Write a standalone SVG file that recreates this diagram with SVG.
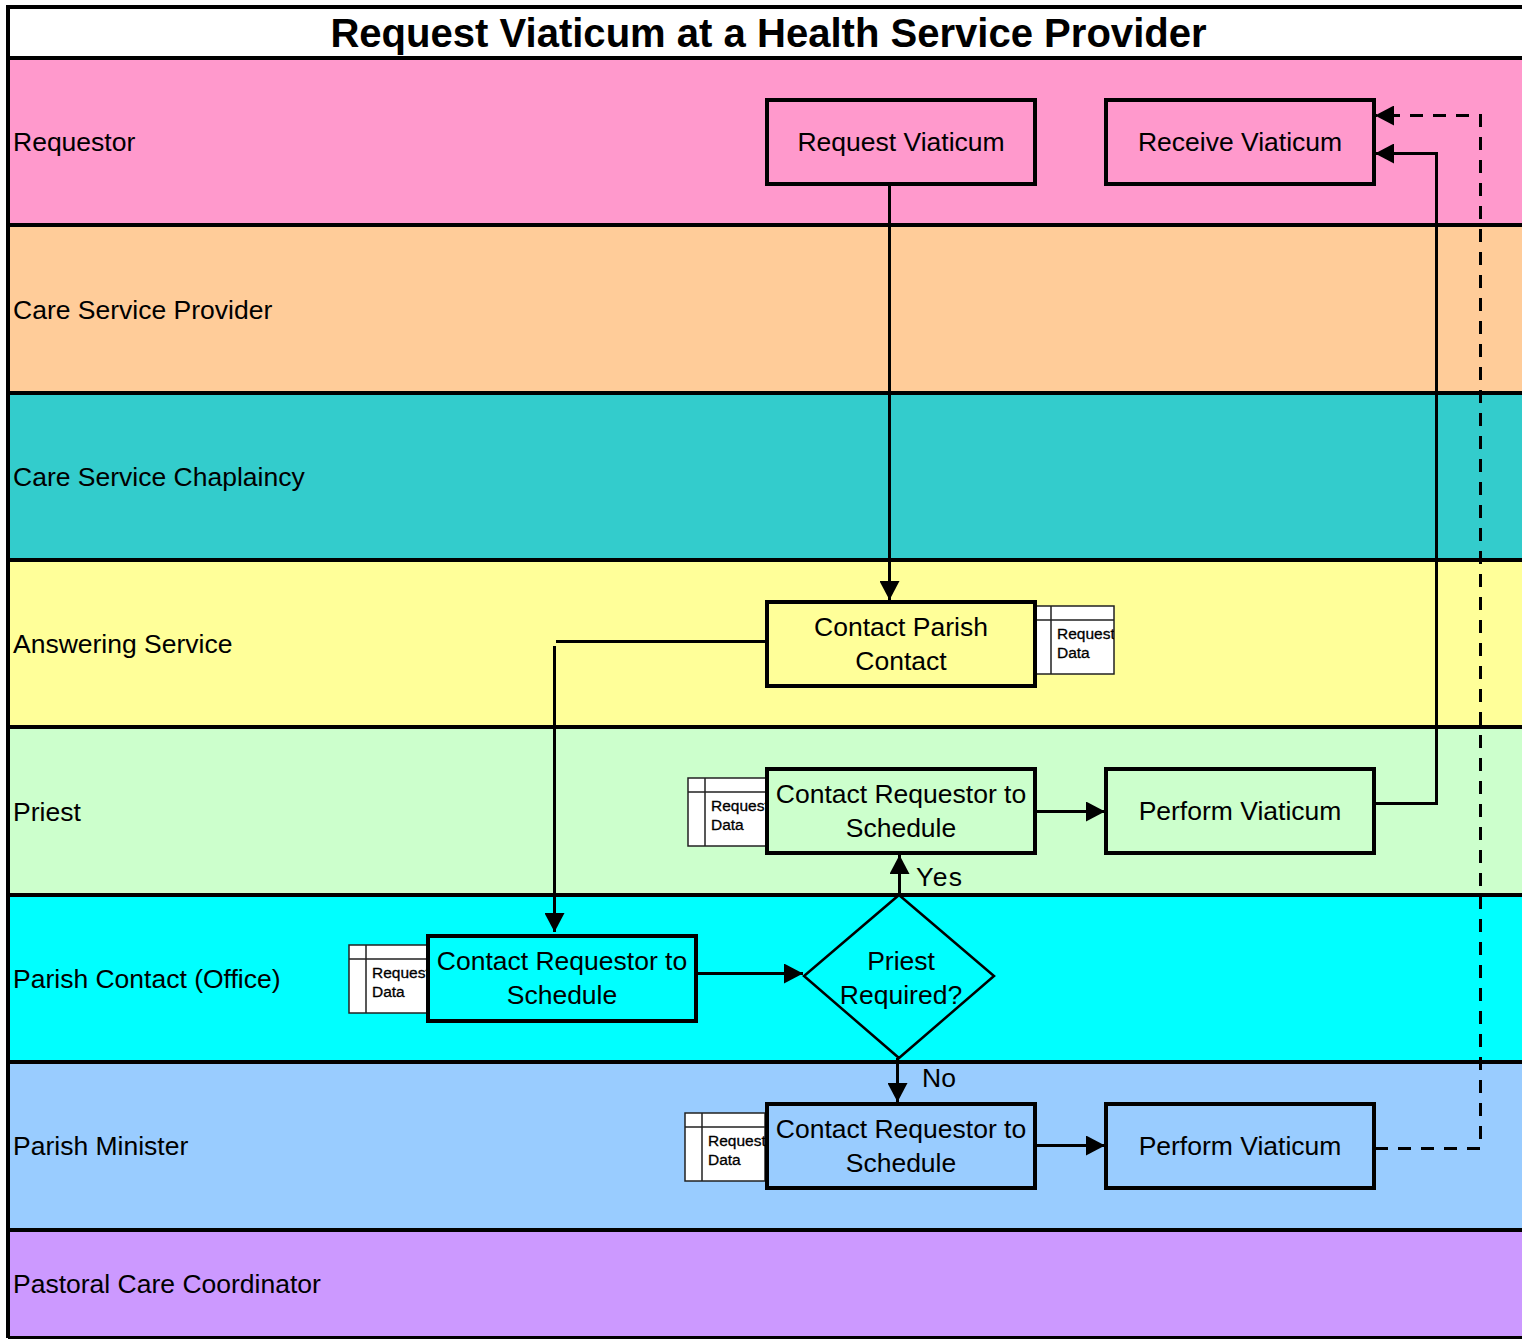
<svg xmlns="http://www.w3.org/2000/svg" width="1522" height="1339" viewBox="0 0 1522 1339">
<style>
text{font-family:"Liberation Sans",Arial,sans-serif;font-size:26.5px;fill:#000}
.t{font-weight:bold;font-size:40.05px}
.m{text-anchor:middle}
.box{stroke:#000;stroke-width:4}
.sep{stroke:#000;stroke-width:4;fill:none}
.c{fill:none;stroke:#000;stroke-width:3}
.d{fill:none;stroke:#000;stroke-width:3;stroke-dasharray:13 10}
.doc{fill:#fff;stroke:#222;stroke-width:1.5}
.docl{fill:none;stroke:#222;stroke-width:1.5}
.dt{font-size:15.5px;stroke:#000;stroke-width:.3}
</style>
<defs>
<marker id="a" markerUnits="userSpaceOnUse" markerWidth="20" markerHeight="20" refX="19" refY="10" orient="auto"><path d="M0 0L19 10L0 20Z" fill="#000"/></marker>
<clipPath id="dc"><rect width="80" height="68"/></clipPath>
<g id="docshape">
<rect class="doc" width="80" height="68"/>
<path class="docl" d="M0 14H80M17 0V68"/>
<g clip-path="url(#dc)">
<text class="dt" x="23" y="33">Request</text>
<text class="dt" x="23" y="52">Data</text>
</g>
</g>
</defs>
<g id="lanes">
<rect x="8" y="7" width="1516" height="51" fill="#fff"/>
<rect x="8" y="58" width="1516" height="167" fill="#ff99cc"/>
<rect x="8" y="225" width="1516" height="168" fill="#ffcc99"/>
<rect x="8" y="393" width="1516" height="167" fill="#33cccc"/>
<rect x="8" y="560" width="1516" height="167" fill="#ffff99"/>
<rect x="8" y="727" width="1516" height="168" fill="#ccffcc"/>
<rect x="8" y="895" width="1516" height="167" fill="#00ffff"/>
<rect x="8" y="1062" width="1516" height="168" fill="#99ccff"/>
<rect x="8" y="1230" width="1516" height="108" fill="#cc99ff"/>
<path class="sep" d="M8 1338V7H1524M8 58H1524M8 225H1524M8 393H1524M8 560H1524M8 727H1524M8 895H1524M8 1062H1524M8 1230H1524M8 1338H1524"/>
<text class="t m" x="768.5" y="47">Request Viaticum at a Health Service Provider</text>
<text x="13" y="151">Requestor</text>
<text x="13" y="319">Care Service Provider</text>
<text x="13" y="486">Care Service Chaplaincy</text>
<text x="13" y="653">Answering Service</text>
<text x="13" y="821">Priest</text>
<text x="13" y="988">Parish Contact (Office)</text>
<text x="13" y="1155">Parish Minister</text>
<text x="13" y="1293">Pastoral Care Coordinator</text>
</g>
<g id="connectors">
<path class="c" d="M889.5 184V600" marker-end="url(#a)"/>
<path class="c" d="M766 641.5H556"/>
<path class="c" d="M554.5 646V932" marker-end="url(#a)"/>
<path class="c" d="M696 973.5H803" marker-end="url(#a)"/>
<path class="c" d="M899.5 895V855" marker-end="url(#a)"/>
<path class="c" d="M897.5 1058V1102" marker-end="url(#a)"/>
<path class="c" d="M1035 811.5H1105" marker-end="url(#a)"/>
<path class="c" d="M1035 1145.5H1105" marker-end="url(#a)"/>
<path class="c" d="M1375 803.5H1436.5V153.5H1375" marker-end="url(#a)"/>
<path class="d" d="M1375 1148.5H1480.5V115.5H1375" marker-end="url(#a)"/>
<text x="916" y="886" textLength="46">Yes</text>
<text x="922" y="1087">No</text>
</g>
<g id="n1"><rect class="box" x="767" y="100" width="268" height="84" fill="#ff99cc"/><text class="m" x="901" y="151">Request Viaticum</text></g>
<g id="n2"><rect class="box" x="1106" y="100" width="268" height="84" fill="#ff99cc"/><text class="m" x="1240" y="151">Receive Viaticum</text></g>
<g id="d1"><use href="#docshape" x="1034" y="606"/></g>
<g id="n3"><rect class="box" x="767" y="602" width="268" height="84" fill="#ffff99"/><text class="m" x="901" y="636">Contact Parish</text><text class="m" x="901" y="670">Contact</text></g>
<g id="d2"><use href="#docshape" x="688" y="778"/></g>
<g id="n4"><rect class="box" x="767" y="769" width="268" height="84" fill="#ccffcc"/><text class="m" x="901" y="803">Contact Requestor to</text><text class="m" x="901" y="837">Schedule</text></g>
<g id="n5"><rect class="box" x="1106" y="769" width="268" height="84" fill="#ccffcc"/><text class="m" x="1240" y="820">Perform Viaticum</text></g>
<g id="d3"><use href="#docshape" x="349" y="945"/></g>
<g id="n6"><rect class="box" x="428" y="936" width="268" height="85" fill="#00ffff"/><text class="m" x="562" y="970">Contact Requestor to</text><text class="m" x="562" y="1004">Schedule</text></g>
<g id="n7"><path d="M899 895L994 976L899 1058L804 976Z" fill="#00ffff" stroke="#000" stroke-width="2.5"/><text class="m" x="901" y="970">Priest</text><text class="m" x="901" y="1004">Required?</text></g>
<g id="d4"><use href="#docshape" x="685" y="1113"/></g>
<g id="n8"><rect class="box" x="767" y="1104" width="268" height="84" fill="#99ccff"/><text class="m" x="901" y="1138">Contact Requestor to</text><text class="m" x="901" y="1172">Schedule</text></g>
<g id="n9"><rect class="box" x="1106" y="1104" width="268" height="84" fill="#99ccff"/><text class="m" x="1240" y="1155">Perform Viaticum</text></g>
</svg>
